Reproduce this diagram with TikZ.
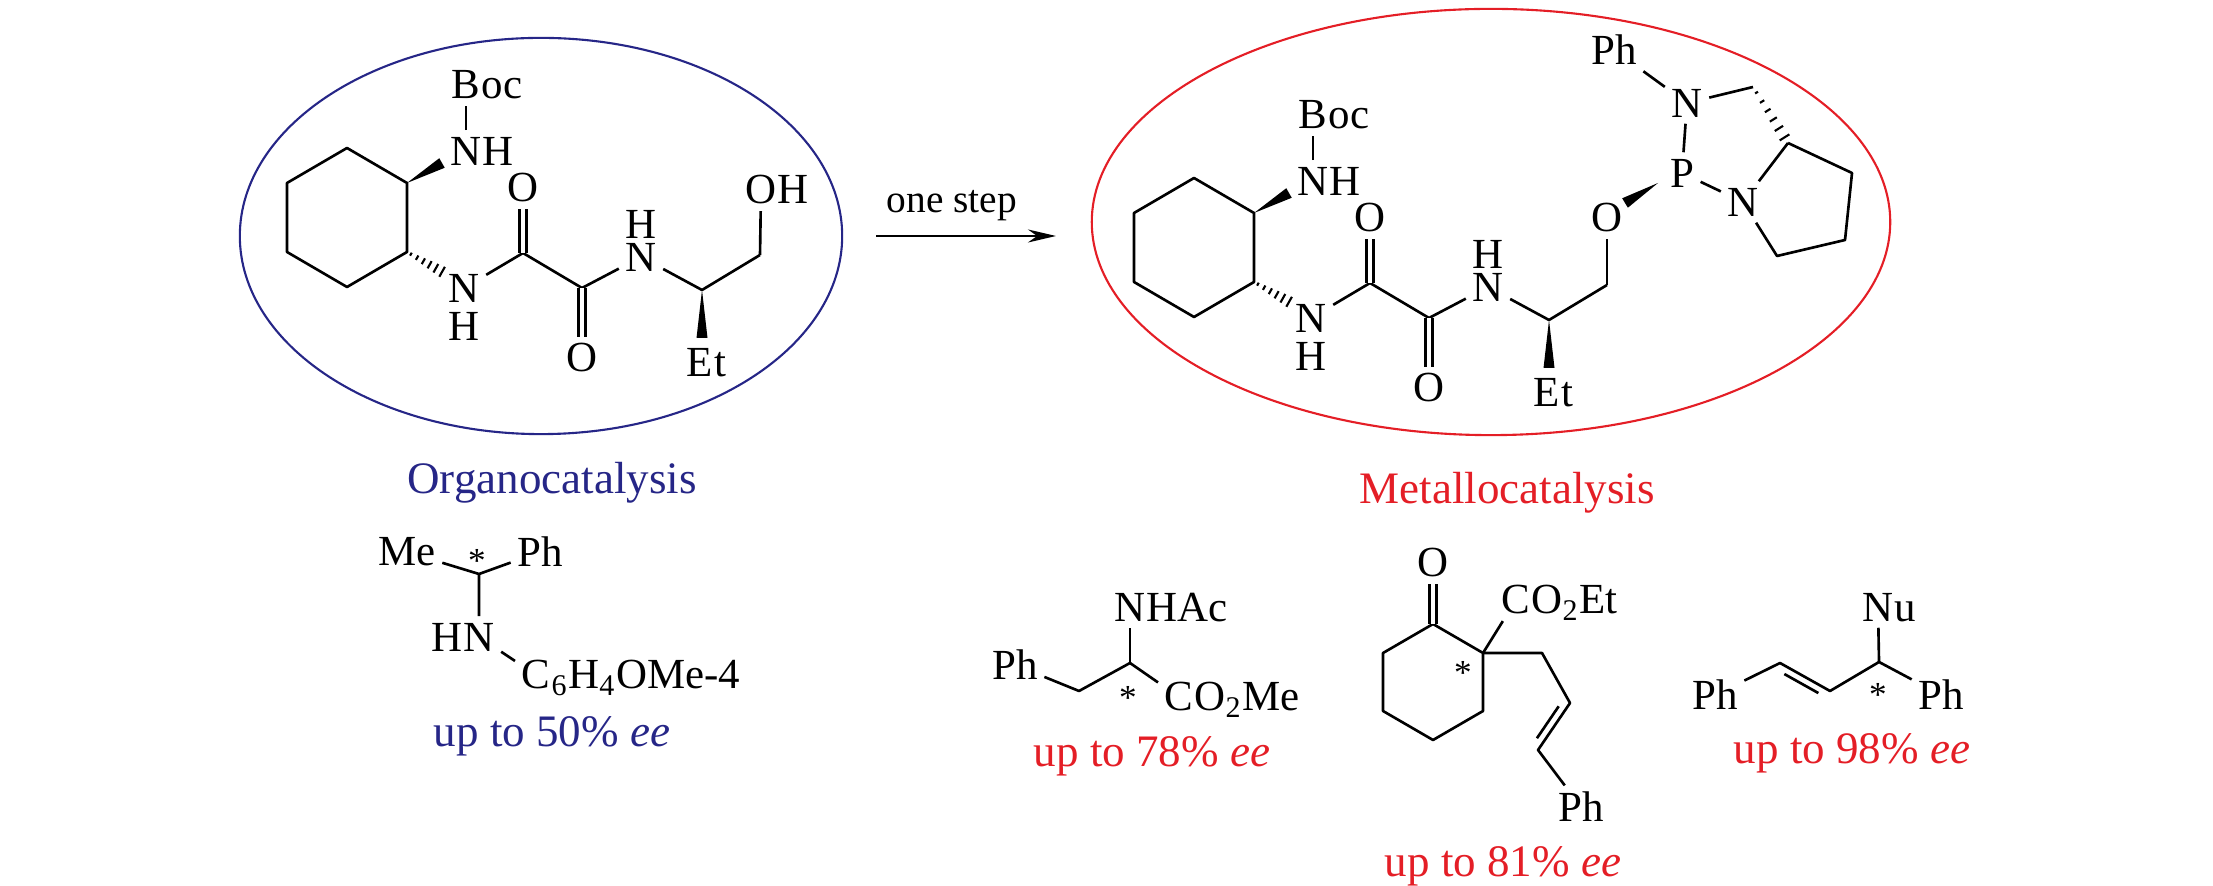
\documentclass[tikz,border=0pt]{standalone}
\usepackage{fontspec}
\setmainfont{Liberation Serif}
\usetikzlibrary{calc,arrows.meta}
\definecolor{organo}{RGB}{38,38,135}
\definecolor{metallo}{RGB}{228,30,38}
\tikzset{
  atom/.style={inner sep=0.06cm,font=\fontsize{12.2}{14}\selectfont},
  tailr/.style={atom,anchor=base west,inner xsep=0pt,xshift=-0.06cm},
  taill/.style={atom,anchor=base east,inner xsep=0pt,xshift=0.06cm},
  starmark/.style={inner sep=0pt,font=\fontsize{10}{12}\selectfont},
  bond/.style={line width=0.75pt},
  dbond/.style={bond,double,double distance=0.045cm},
  catname/.style={anchor=base,font=\fontsize{12.8}{15}\selectfont}
}
% atom letter with its H set above or below it
\newcommand\Habove[1]{\ooalign{\hfil#1\hfil\cr\hfil\smash{\raisebox{0.33cm}{H}}\hfil\cr}}
\newcommand\Hbelow[1]{\ooalign{\hfil#1\hfil\cr\hfil\smash{\raisebox{-0.38cm}{H}}\hfil\cr}}
% bold wedge: narrow at #1, wide at #2
\newcommand\wedgebond[2]{\fill (#1) -- ($(#2)!0.055cm!90:(#1)$) -- ($(#2)!0.055cm!-90:(#1)$) -- cycle;}
% hashed wedge: narrow at #1, wide at #2
\newcommand\hashbond[2]{\foreach \hp in {0.1,0.26,...,0.95}{%
  \draw[line width=0.6pt] ($($(#1)!\hp!(#2)$)!{0.012cm+\hp*0.05cm}!90:(#2)$)
    -- ($($(#1)!\hp!(#2)$)!{0.012cm+\hp*0.05cm}!-90:(#2)$);}}
% second line of a C=C bond, side #3
\newcommand\innerbond[3]{\draw[bond] ($($(#1)!0.16!(#2)$)!0.075cm!#3:(#2)$) -- ($($(#1)!0.84!(#2)$)!0.075cm!#3:(#2)$);}
% cyclohexane diamine oxamide part, names prefixed by #1
\newcommand\catcore[1]{%
  \path (347,148) coordinate (#1r1) (407,183) coordinate (#1r2)
        (407,252) coordinate (#1r3) (347,287) coordinate (#1r4)
        (287,252) coordinate (#1r5) (287,183) coordinate (#1r6)
        (442,163) coordinate (#1wb) (446,274) coordinate (#1hb)
        (523,253) coordinate (#1c1) (582,288) coordinate (#1c2)
        (702,290) coordinate (#1c3) (760,255) coordinate (#1c4)
        (702,338) coordinate (#1we);
  \draw[bond] (#1r1) -- (#1r2) -- (#1r3) -- (#1r4) -- (#1r5) -- (#1r6) -- cycle;
  \node[atom] (#1nb) at (466,151) {N};
  \node[tailr] at (#1nb.base east) {H};
  \node[atom] (#1bo) at (466,85) {B};
  \node[tailr] at (#1bo.base east) {oc};
  \node[atom] (#1na) at (464,288) {\Hbelow{N}};
  \node[atom] (#1o1) at (523,188) {O};
  \node[atom] (#1o2) at (582,358) {O};
  \node[atom] (#1n2) at (641,257) {\Habove{N}};
  \node[atom] (#1et) at (700,362) {E};
  \node[tailr] at (#1et.base east) {t};
  \wedgebond{#1r2}{#1wb}
  \hashbond{#1r3}{#1hb}
  \wedgebond{#1c3}{#1we}
  \draw[bond] (#1nb) -- (#1bo);
  \draw[bond] (#1na) -- (#1c1) -- (#1c2) -- (#1n2) -- (#1c3) -- (#1c4);
  \draw[dbond] (#1c1) -- (#1o1);
  \draw[dbond] (#1c2) -- (#1o2);
}
\begin{document}
\begin{tikzpicture}[x=0.01cm,y=-0.01cm,line join=round]
\useasboundingbox (0,0) rectangle (2213,886);
% organocatalyst
\draw[organo,line width=0.6pt] (541,236) ellipse [x radius=3.01cm,y radius=1.98cm];
\catcore{l}
\node[atom] (lo) at (761,190) {O};
\node[tailr] at (lo.base east) {H};
\draw[bond] (lc4) -- (lo);
\node[catname,organo] (org) at (552,494) {Organocatalysis};
% arrow
\coordinate (st1) at (876,236);
\coordinate (st2) at (1056,236);
\draw[line width=0.7pt,-{Stealth[length=0.28cm,width=0.13cm]}] (st1) -- (st2);
\node[anchor=base,font=\fontsize{11.2}{13}\selectfont] (step) at (952,213) {one step};
% metallocatalyst
\draw[metallo,line width=0.6pt] (1491,222) ellipse [x radius=3.99cm,y radius=2.13cm];
\begin{scope}[shift={(847,30)}]
\catcore{m}
\end{scope}
\node[atom] (mo) at (1607,218) {O};
\draw[bond] (mc4) -- (mo);
\node[atom] (mp) at (1682,173) {P};
\node[atom] (mn) at (1687,103) {N};
\node[atom] (mph) at (1614,50) {Ph};
\node[atom] (mnr) at (1743,202) {N};
\path (1753,87) coordinate (mch) (1788,143) coordinate (mq2)
      (1852,173) coordinate (mq3) (1845,240) coordinate (mq4)
      (1777,256) coordinate (mq5) (1658,183) coordinate (mw1)
      (1625,203) coordinate (mw2);
\draw[bond] (mph) -- (mn) -- (mch);
\draw[bond] (mn) -- (mp) -- (mnr);
\hashbond{mch}{mq2}
\draw[bond] (mq2) -- (mq3) -- (mq4) -- (mq5) -- (mnr) -- (mq2);
\wedgebond{mw1}{mw2}
\node[catname,metallo] (met) at (1507,504) {Metallocatalysis};
% amine product
\node[atom] (pme) at (407,552) {Me};
\node[atom] (pph) at (540,552) {Ph};
\coordinate (pc) at (479,574);
\node[starmark] (ps) at (477,561) {*};
\node[atom] (pn) at (479,637) {N};
\node[taill] at (pn.base west) {H};
\node[atom] (pcc) at (536,675) {C};
\node[tailr] at (pcc.base east) {\textsubscript{6}H\textsubscript{4}OMe-4};
\draw[bond] (pme) -- (pc) -- (pph);
\draw[bond] (pc) -- (pn) -- (pcc);
\node[catname,organo] (ee1) at (552,747) {up to 50\% \textit{ee}};
% amino acid product
\node[atom] (aph) at (1015,665) {Ph};
\coordinate (ach) at (1079,691);
\coordinate (ac) at (1130,663);
\node[atom] (an) at (1130,607) {N};
\node[tailr] at (an.base east) {HAc};
\node[atom] (aco) at (1179,697) {C};
\node[tailr] at (aco.base east) {O\textsubscript{2}Me};
\node[starmark] (as) at (1128,698) {*};
\draw[bond] (aph) -- (ach) -- (ac) -- (aco);
\draw[bond] (ac) -- (an);
\node[catname,metallo] (ee2) at (1152,767) {up to 78\% \textit{ee}};
% ketone product
\path (1433,624) coordinate (kr1) (1483,653) coordinate (kr2)
      (1483,711) coordinate (kr3) (1433,740) coordinate (kr4)
      (1383,711) coordinate (kr5) (1383,653) coordinate (kr6)
      (1542,653) coordinate (kch) (1570,703) coordinate (kv1)
      (1538,750) coordinate (kv2);
\draw[bond] (kr1) -- (kr2) -- (kr3) -- (kr4) -- (kr5) -- (kr6) -- cycle;
\node[atom] (ko) at (1433,563) {O};
\draw[dbond] (kr1) -- (ko);
\node[atom] (kco) at (1516,600) {C};
\node[tailr] at (kco.base east) {O\textsubscript{2}Et};
\node[atom] (kph) at (1581,807) {Ph};
\node[starmark] (ks) at (1463,673) {*};
\draw[bond] (kr2) -- (kco);
\draw[bond] (kr2) -- (kch) -- (kv1) -- (kv2) -- (kph);
\innerbond{kv1}{kv2}{-90}
\node[catname,metallo] (ee3) at (1503,876) {up to 81\% \textit{ee}};
% allylic product
\node[atom] (un) at (1878,607) {N};
\node[tailr] at (un.base east) {u};
\coordinate (uc) at (1879,662);
\coordinate (uv2) at (1830,691);
\coordinate (uv1) at (1780,663);
\node[atom] (uph1) at (1715,695) {Ph};
\node[atom] (uph2) at (1941,695) {Ph};
\node[starmark] (us) at (1878,695) {*};
\draw[bond] (uph1) -- (uv1) -- (uv2) -- (uc) -- (uph2);
\draw[bond] (uc) -- (un);
\innerbond{uv1}{uv2}{-90}
\node[catname,metallo] (ee4) at (1852,763) {up to 98\% \textit{ee}};
\end{tikzpicture}
\end{document}
